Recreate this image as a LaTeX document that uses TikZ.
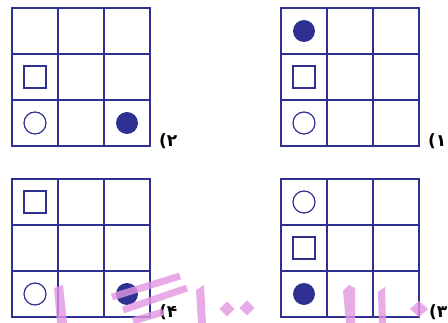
\documentclass[tikz,border=0pt]{standalone}
\usepackage{fontspec}
\newfontfamily\fafont{DejaVu Sans}
\definecolor{gridblue}{RGB}{46,49,146}
\definecolor{wmpink}{RGB}{226,150,226}
\tikzset{
  gridline/.style={draw=gridblue, line width=1.8pt, line cap=rect},
  opencirc/.style={circle, draw=gridblue, line width=1.2pt, minimum size=22pt, inner sep=0pt, fill=white},
  fullcirc/.style={circle, fill=gridblue, minimum size=22pt, inner sep=0pt},
  sqbox/.style={rectangle, draw=gridblue, line width=1.3pt, minimum size=22pt, inner sep=0pt, fill=white},
  optlabel/.style={font=\fafont\bfseries\fontsize{17}{17}\selectfont, inner sep=0pt, anchor=west},
  wm/.style={fill=wmpink, opacity=0.8},
  wmline/.style={draw=wmpink, opacity=0.8, line width=7pt}
}
\begin{document}
\begin{tikzpicture}[x=1pt,y=-1pt]
\useasboundingbox (0,0) rectangle (448,323);
% grids
\foreach \gx/\gy in {12/8, 281/8, 12/179, 281/179}{
  \foreach \i in {0,1,2,3}{
    \draw[gridline] ({\gx+46*\i},\gy) -- ({\gx+46*\i},{\gy+138});
    \draw[gridline] (\gx,{\gy+46*\i}) -- ({\gx+138},{\gy+46*\i});
  }
}
% grid 2 (top-left)
\node[sqbox] (g2sq) at (35,77) {};
\node[opencirc] (g2oc) at (35,123) {};
\node[fullcirc] (g2fc) at (127,123) {};
\node[optlabel] (l2) at (159,141) {(۲};
% grid 1 (top-right)
\node[fullcirc] (g1fc) at (304,31) {};
\node[sqbox] (g1sq) at (304,77) {};
\node[opencirc] (g1oc) at (304,123) {};
\node[optlabel] (l1) at (428,141) {(۱};
% grid 4 (bottom-left)
\node[sqbox] (g4sq) at (35,202) {};
\node[opencirc] (g4oc) at (35,294) {};
\node[fullcirc] (g4fc) at (127,294) {};
\node[optlabel] (l4) at (159,312) {(۴};
% grid 3 (bottom-right)
\node[opencirc] (g3oc) at (304,202) {};
\node[sqbox] (g3sq) at (304,248) {};
\node[fullcirc] (g3fc) at (304,294) {};
\node[optlabel] (l3) at (429,312) {(۳};
% watermark
\fill[wm] (54,288) -- (63,285) -- (67,323) -- (57,323) -- cycle;
\draw[wmline] (112,297) -- (180,276);
\draw[wmline] (123,310) -- (187,288);
\draw[wmline] (133,321) -- (163,312);
\fill[wm] (196,290) -- (204,285) -- (206,323) -- (198,323) -- cycle;
\fill[wm] (227,301.5) -- (234.5,309) -- (227,316.5) -- (219.5,309) -- cycle;
\fill[wm] (247,300.5) -- (254.5,308) -- (247,315.5) -- (239.5,308) -- cycle;
\fill[wm] (343,291) -- (349,285) -- (355,288) -- (355,323) -- (346,323) -- cycle;
\fill[wm] (378,292) -- (385,287) -- (386,323) -- (379,323) -- cycle;
\fill[wm] (419,301) -- (428,309) -- (419,317) -- (410,309) -- cycle;
\end{tikzpicture}
\end{document}
